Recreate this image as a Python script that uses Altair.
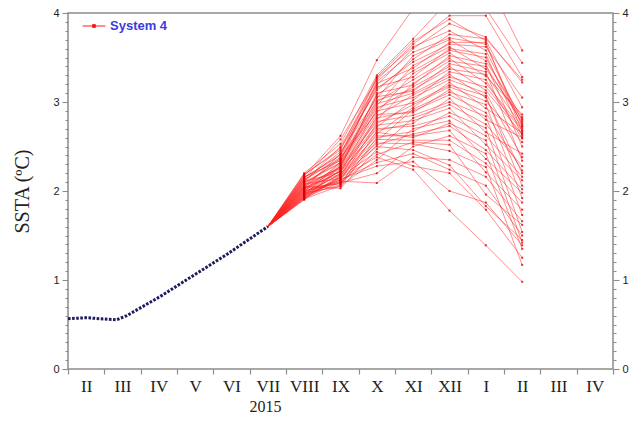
import altair as alt
import pandas as pd

# ---- axis categories -------------------------------------------------------
MONTHS = ["II", "III", "IV", "V", "VI", "VII", "VIII", "IX", "X", "XI", "XII",
          "I", "II", "III", "IV"]

# ---- observed SSTA (blue dotted line), month position from start of Feb 2015
OBS_MONTH = [0.0, 0.52, 0.88, 1.34, 1.62, 2.54, 3.45, 4.38, 5.5]
OBS_SSTA = [0.565, 0.576, 0.565, 0.554, 0.60, 0.815, 1.05, 1.29, 1.60]

# ---- System 4 ensemble forecast (51 members) --------------------------------
START_MONTH = 5.5
START_SSTA = 1.60
LEAD_MONTHS = [6.5, 7.5, 8.5, 9.5, 10.5, 11.5, 12.5]

# values, sorted high -> low
AUG_VALUES = [2.20, 2.19, 2.18, 2.17, 2.16, 2.15, 2.15, 2.14, 2.13, 2.12, 2.12,
              2.11, 2.10, 2.10, 2.09, 2.08, 2.08, 2.07, 2.06, 2.06, 2.05, 2.05,
              2.04, 2.04, 2.03, 2.03, 2.02, 2.02, 2.01, 2.01, 2.00, 2.00, 1.99,
              1.99, 1.98, 1.98, 1.97, 1.97, 1.96, 1.96, 1.95, 1.95, 1.94, 1.94,
              1.93, 1.93, 1.92, 1.92, 1.91, 1.91, 1.90]
SEP_VALUES = [2.62, 2.58, 2.53, 2.50, 2.48, 2.46, 2.44, 2.42, 2.41, 2.40, 2.38,
              2.37, 2.36, 2.35, 2.34, 2.33, 2.32, 2.31, 2.30, 2.29, 2.28, 2.27,
              2.26, 2.26, 2.25, 2.24, 2.23, 2.22, 2.22, 2.21, 2.20, 2.19, 2.19,
              2.18, 2.17, 2.16, 2.16, 2.15, 2.14, 2.13, 2.13, 2.12, 2.11, 2.10,
              2.10, 2.09, 2.08, 2.07, 2.06, 2.05, 2.03]
OCT_VALUES = [3.47, 3.30, 3.28, 3.27, 3.25, 3.23, 3.21, 3.19, 3.17, 3.15, 3.13,
              3.10, 3.08, 3.06, 3.04, 3.02, 3.00, 2.98, 2.96, 2.94, 2.92, 2.90,
              2.88, 2.86, 2.84, 2.82, 2.80, 2.78, 2.76, 2.74, 2.72, 2.70, 2.68,
              2.66, 2.64, 2.62, 2.60, 2.58, 2.56, 2.54, 2.52, 2.50, 2.47, 2.44,
              2.41, 2.38, 2.35, 2.32, 2.28, 2.20, 2.09]
NOV_VALUES = [4.05, 3.71, 3.68, 3.65, 3.62, 3.60, 3.56, 3.52, 3.48, 3.45, 3.41,
              3.38, 3.35, 3.32, 3.28, 3.25, 3.21, 3.19, 3.17, 3.14, 3.12, 3.10,
              3.08, 3.05, 3.02, 2.99, 2.97, 2.94, 2.92, 2.90, 2.88, 2.85, 2.82,
              2.79, 2.76, 2.73, 2.70, 2.67, 2.64, 2.62, 2.60, 2.57, 2.55, 2.53,
              2.50, 2.46, 2.42, 2.38, 2.33, 2.28, 2.24]
DEC_VALUES = [4.30, 4.15, 3.97, 3.93, 3.88, 3.80, 3.76, 3.72, 3.70, 3.67, 3.65,
              3.62, 3.60, 3.58, 3.55, 3.52, 3.49, 3.46, 3.43, 3.40, 3.37, 3.34,
              3.31, 3.28, 3.25, 3.22, 3.19, 3.17, 3.14, 3.11, 3.08, 3.04, 3.00,
              2.97, 2.93, 2.88, 2.84, 2.79, 2.76, 2.73, 2.68, 2.62, 2.57, 2.52,
              2.45, 2.35, 2.29, 2.24, 2.20, 2.00, 1.78]
JAN_VALUES = [4.40, 4.05, 3.97, 3.73, 3.71, 3.69, 3.67, 3.65, 3.62, 3.58, 3.54,
              3.50, 3.46, 3.43, 3.40, 3.37, 3.34, 3.31, 3.29, 3.25, 3.21, 3.17,
              3.13, 3.10, 3.07, 3.05, 3.01, 2.97, 2.93, 2.88, 2.84, 2.80, 2.75,
              2.71, 2.66, 2.62, 2.57, 2.52, 2.46, 2.42, 2.36, 2.31, 2.27, 2.21,
              2.16, 2.06, 1.96, 1.87, 1.83, 1.79, 1.39]
FEB_VALUES = [3.58, 3.44, 3.28, 3.25, 3.22, 3.05, 2.94, 2.86, 2.83, 2.81, 2.79,
              2.77, 2.75, 2.73, 2.72, 2.70, 2.68, 2.67, 2.65, 2.64, 2.62, 2.60,
              2.59, 2.55, 2.50, 2.42, 2.38, 2.34, 2.28, 2.23, 2.20, 2.16, 2.12,
              2.06, 2.02, 1.98, 1.92, 1.87, 1.79, 1.73, 1.66, 1.62, 1.54, 1.50,
              1.45, 1.42, 1.39, 1.35, 1.25, 1.17, 0.98]

# which entry of each column belongs to member m (pairing estimated from the lines)
AUG_RANK = [3, 0, 7, 1, 12, 5, 2, 18, 9, 4, 25, 14, 6, 30, 10, 20, 8, 35, 16, 11,
            40, 22, 13, 45, 27, 15, 50, 32, 19, 28, 17, 38, 24, 21, 43, 34, 26,
            48, 29, 23, 41, 31, 37, 46, 33, 39, 44, 36, 47, 42, 49]
SEP_RANK = [0, 2, 1, 5, 3, 8, 4, 11, 6, 14, 7, 17, 9, 20, 10, 23, 12, 26, 13, 29,
            15, 32, 16, 35, 18, 38, 19, 41, 21, 44, 22, 47, 24, 50, 25, 49, 27,
            48, 28, 46, 30, 45, 31, 43, 33, 42, 34, 40, 36, 39, 37]
OCT_RANK = [0, 1, 4, 2, 7, 3, 10, 5, 14, 6, 9, 18, 8, 12, 22, 11, 16, 26, 13, 20,
            15, 30, 17, 24, 19, 34, 21, 28, 23, 38, 25, 32, 27, 42, 29, 36, 31,
            46, 33, 40, 35, 49, 37, 44, 39, 50, 41, 47, 43, 48, 45]
NOV_RANK = [0, 1, 3, 2, 5, 4, 8, 6, 7, 11, 9, 10, 14, 12, 13, 17, 15, 16, 20, 18,
            19, 24, 21, 22, 23, 27, 25, 26, 30, 28, 29, 34, 31, 32, 33, 37, 35,
            36, 40, 38, 39, 44, 41, 42, 43, 47, 45, 46, 49, 48, 50]
DEC_RANK = list(range(51))
JAN_RANK = [0, 1, 2, 5, 3, 9, 4, 7, 12, 6, 8, 15, 10, 11, 18, 13, 20, 14, 16, 22,
            17, 19, 25, 21, 23, 28, 24, 26, 31, 27, 29, 34, 30, 32, 37, 33, 35,
            40, 36, 38, 43, 39, 41, 46, 42, 44, 48, 45, 49, 47, 50]
FEB_RANK = [0, 1, 2, 6, 4, 10, 3, 13, 8, 17, 5, 9, 20, 12, 7, 24, 15, 11, 27, 19,
            14, 22, 30, 16, 26, 18, 33, 23, 21, 36, 29, 25, 39, 28, 32, 42, 31,
            35, 45, 34, 38, 47, 37, 41, 49, 40, 44, 43, 48, 46, 50]

COLUMNS = [AUG_VALUES, SEP_VALUES, OCT_VALUES, NOV_VALUES, DEC_VALUES,
           JAN_VALUES, FEB_VALUES]
RANKS = [AUG_RANK, SEP_RANK, OCT_RANK, NOV_RANK, DEC_RANK, JAN_RANK, FEB_RANK]

rows = []
for m in range(51):
    rows.append({"member": m, "month": START_MONTH, "ssta": START_SSTA,
                 "lead": 0, "series": "System 4"})
    for k, (vals, rk) in enumerate(zip(COLUMNS, RANKS)):
        rows.append({"member": m, "month": LEAD_MONTHS[k], "ssta": vals[rk[m]],
                     "lead": k + 1, "series": "System 4"})
ens = pd.DataFrame(rows)
obs = pd.DataFrame({"month": OBS_MONTH, "ssta": OBS_SSTA})

# ---- scales / axes ---------------------------------------------------------
xscale = alt.Scale(domain=[0, 15], nice=False, zero=False)
yscale = alt.Scale(domain=[0, 4], nice=False)

label_arr = "[" + ",".join("'%s'" % m for m in MONTHS) + "]"
x_values = [i / 2 for i in range(31)]
y_values = [round(i / 10, 1) for i in range(41)]
is_int_y = "abs(datum.value - round(datum.value)) < 0.01"

AX_COLOR = "#8c8c8c"

x_axis = alt.Axis(
    values=x_values,
    grid=False,
    domain=False,
    tickSize=5,
    tickColor=AX_COLOR,
    tickWidth=1.2,
    tickOpacity={"condition": {"test": "floor(datum.value) == datum.value", "value": 1}, "value": 0},
    labelExpr="floor(datum.value) != datum.value ? %s[floor(datum.value)] : ''" % label_arr,
    labelFont="Liberation Serif",
    labelFontSize=17,
    labelColor="#222222",
    labelPadding=4,
    labelOverlap=False,
    labelFlush=False,
    title="2015",
    titleFont="Liberation Serif",
    titleFontSize=16,
    titleFontWeight="normal",
    titleColor="#222222",
    titleX=197,
    titleY=29,
    titleBaseline="top",
)


def y_axis(orient, title=None):
    kw = dict(
        orient=orient,
        values=y_values,
        grid=False,
        domain=False,
        tickColor=AX_COLOR,
        tickWidth=1.1,
        tickSize={"condition": {"test": is_int_y, "value": 6}, "value": 3},
        labelExpr="%s ? format(datum.value, 'd') : ''" % is_int_y,
        labelFont="Liberation Sans",
        labelFontSize=11,
        labelColor="#222222",
        labelPadding=3,
        labelOverlap=False,
        labelFlush=False,
    )
    if title:
        kw.update(title=title, titleFont="Liberation Serif", titleFontSize=20,
                  titleFontWeight="normal", titleColor="#222222", titlePadding=20)
    else:
        kw.update(title=None)
    return alt.Axis(**kw)


legend = alt.Legend(
    orient="none",
    legendX=14,
    legendY=1,
    title=None,
    symbolType="M-1,0H1M-0.12,-0.12H0.12V0.12H-0.12Z",
    symbolSize=529,
    symbolStrokeWidth=1,
    symbolStrokeColor="#ff2020",
    symbolFillColor="#e00000",
    symbolOpacity=1,
    labelFont="Liberation Sans",
    labelFontSize=13,
    labelFontWeight="bold",
    labelColor="#3b3be0",
    labelOffset=4,
)

lines = alt.Chart(ens).mark_line(clip=True, strokeWidth=1, opacity=0.5).encode(
    x=alt.X("month:Q", scale=xscale, axis=x_axis),
    y=alt.Y("ssta:Q", scale=yscale, axis=y_axis("left", "SSTA (ºC)")),
    detail="member:N",
    order="lead:Q",
    color=alt.Color("series:N", scale=alt.Scale(domain=["System 4"], range=["#ff2020"]),
                    legend=legend),
)

points = alt.Chart(ens).transform_filter("datum.lead > 0").mark_square(
    clip=True, size=4, color="#dd0000", opacity=0.8, filled=True
).encode(
    x=alt.X("month:Q", scale=xscale, axis=None),
    y=alt.Y("ssta:Q", scale=yscale, axis=y_axis("right")),
)

observed = alt.Chart(obs).mark_line(
    color="#1c1c5e", strokeWidth=3, strokeDash=[2.6, 1.5], clip=True
).encode(
    x=alt.X("month:Q", scale=xscale, axis=None),
    y=alt.Y("ssta:Q", scale=yscale, axis=None),
)

chart = alt.layer(lines, points, observed).resolve_axis(
    x="independent", y="independent"
).properties(
    width=545,
    height=356,
    autosize=alt.AutoSizeParams(type="none"),
    padding={"left": 60, "top": 5, "right": 22, "bottom": 44},
).configure_view(
    stroke=AX_COLOR, strokeWidth=1.5
)

chart.save("out.html", embed_options={"renderer": "svg", "actions": False})
